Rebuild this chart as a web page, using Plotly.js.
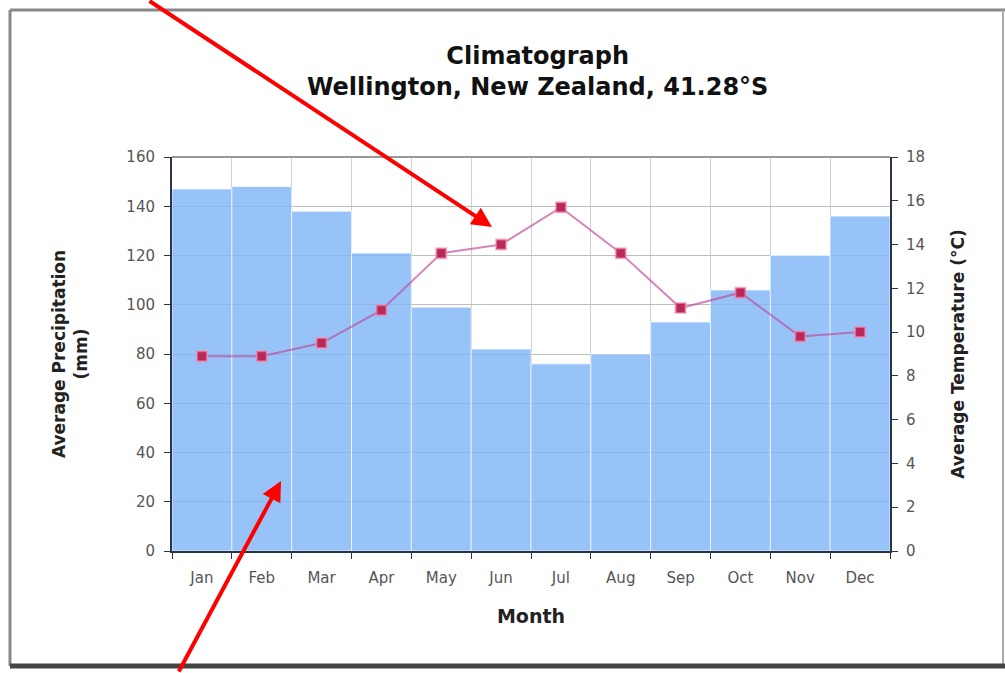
<!DOCTYPE html>
<html>
<head>
<meta charset="utf-8">
<script src="https://cdn.plot.ly/plotly-3.0.1.min.js"></script>
<style>html,body{margin:0;padding:0;background:#fff;}#chart{width:1005px;height:673px;}</style>
</head>
<body>
<div id="chart"></div>
<script>
const months = ["Jan","Feb","Mar","Apr","May","Jun","Jul","Aug","Sep","Oct","Nov","Dec"];
const precipitation = [147, 148, 138, 121, 99, 82, 76, 80, 93, 106, 120, 136];
const temperature = [8.9, 8.9, 9.5, 11.0, 13.6, 14.0, 15.7, 13.6, 11.1, 11.8, 9.8, 10.0];
const precipTicks = [0, 20, 40, 60, 80, 100, 120, 140, 160];
const tempTicks = [0, 2, 4, 6, 8, 10, 12, 14, 16, 18];

const L = 172, R = 890, T = 157, B = 551, W = 1005, H = 673;
const px = v => (v - L) / (R - L);
const py = v => (B - v) / (B - T);
const FONT = 'DejaVu Sans, Liberation Sans, Arial, sans-serif';

const bars = {
  type: 'bar', x: months, y: precipitation, name: 'Precipitation',
  marker: {color: 'rgba(125,180,247,0.8)', line: {color: 'rgba(255,255,255,0.7)', width: 1}},
  hoverinfo: 'x+y'
};
const line = {
  type: 'scatter', mode: 'lines+markers', x: months, y: temperature, yaxis: 'y2', name: 'Temperature',
  line: {color: 'rgba(190,70,150,0.65)', width: 2},
  marker: {symbol: 'square', size: 10, color: '#b8285a', line: {color: 'rgba(255,140,170,0.6)', width: 2}}
};

const layout = {
  width: W, height: H,
  margin: {l: L, r: W - R, t: T, b: H - B},
  paper_bgcolor: '#fff', plot_bgcolor: '#fff',
  showlegend: false,
  bargap: 0,
  font: {family: FONT, color: '#555'},
  title: {text: '<b>Climatograph<br>Wellington, New Zealand, 41.28°S</b>', x: 0.535, xanchor: 'center',
          yref: 'container', y: 1 - 64 / H, yanchor: 'middle',
          font: {size: 24, color: '#111', family: FONT}},
  xaxis: {
    type: 'category', range: [-0.5, 11.5], tickson: 'boundaries', ticks: 'outside', ticklen: 6, tickcolor: '#2a3545',
    showline: true, linecolor: '#2a3545', linewidth: 2,
    showgrid: true, gridcolor: '#d0d0d0', gridwidth: 1,
    tickfont: {size: 15, color: '#555'}, ticklabelstandoff: 12,
    title: {text: '<b>Month</b>', font: {size: 19, color: '#222'}, standoff: 24}
  },
  yaxis: {
    range: [0, 160], tickvals: precipTicks, ticks: 'outside', ticklen: 6, tickcolor: '#2a3545',
    showline: true, linecolor: '#2a3545', linewidth: 2,
    showgrid: true, gridcolor: '#bdbdbd', gridwidth: 1, zeroline: false,
    tickfont: {size: 15, color: '#555'}, ticklabelstandoff: 6,
    title: {text: '<b>Average Precipitation<br>(mm)</b>', font: {size: 17, color: '#222'}, standoff: 34}
  },
  yaxis2: {
    range: [0, 18], tickvals: tempTicks, overlaying: 'y', side: 'right', ticks: 'outside', ticklen: 6, tickcolor: '#2a3545',
    showline: true, linecolor: '#2a3545', linewidth: 2, showgrid: false, zeroline: false,
    tickfont: {size: 15, color: '#555'}, ticklabelstandoff: 5,
    title: {text: '<b>Average Temperature (°C)</b>', font: {size: 17, color: '#222'}, standoff: 28}
  },
  shapes: [
    {type: 'line', xref: 'paper', yref: 'paper', x0: 0, x1: 1, y0: 1, y1: 1, line: {color: '#999', width: 2}},
    {type: 'line', xref: 'paper', yref: 'paper', x0: px(10), x1: px(1005), y0: py(10), y1: py(10), line: {color: '#888', width: 3}},
    {type: 'line', xref: 'paper', yref: 'paper', x0: px(10), x1: px(10), y0: py(10), y1: py(666), line: {color: '#888', width: 3}},
    {type: 'line', xref: 'paper', yref: 'paper', x0: px(1003), x1: px(1003), y0: py(10), y1: py(666), line: {color: '#aaa', width: 2}},
    {type: 'line', xref: 'paper', yref: 'paper', x0: px(10), x1: px(1005), y0: py(666), y1: py(666), line: {color: '#444', width: 5}}
  ],
  annotations: [
    {xref: 'paper', yref: 'paper', x: px(492), y: py(227), ax: 148 - 492, ay: -4 - 227, text: '', showarrow: true,
     arrowhead: 2, arrowsize: 1, arrowwidth: 4, arrowcolor: '#ff0000'},
    {xref: 'paper', yref: 'paper', x: px(281), y: py(481), ax: 178 - 281, ay: 676 - 481, text: '', showarrow: true,
     arrowhead: 2, arrowsize: 1, arrowwidth: 4, arrowcolor: '#ff0000'}
  ]
};

Plotly.newPlot('chart', [bars, line], layout, {displayModeBar: false, staticPlot: true});
</script>
</body>
</html>
